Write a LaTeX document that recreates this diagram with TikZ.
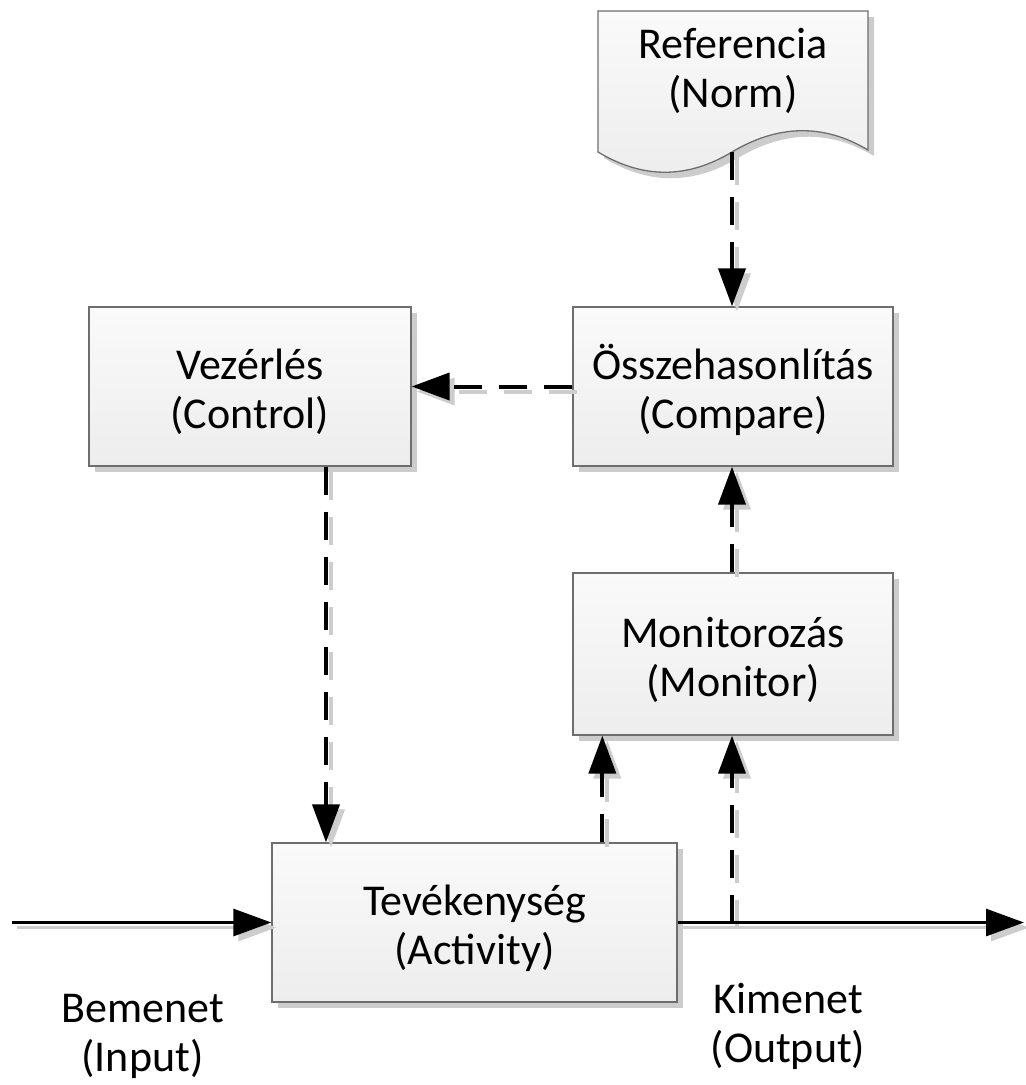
\documentclass[tikz,border=0pt]{standalone}
\usepackage{fontspec}
\setmainfont{Carlito}
\usetikzlibrary{arrows.meta,shadows,calc}
\definecolor{boxborder}{HTML}{6E6E6E}
\definecolor{boxtop}{HTML}{FAFAFA}
\definecolor{boxbot}{HTML}{EDEDED}
\definecolor{shadowgray}{HTML}{CCCCCC}
\definecolor{lineshadow}{HTML}{CDCDCD}
\newcommand{\twoline}[2]{\vtop{\baselineskip=49pt\lineskiplimit=-100pt\halign{\hfil##\hfil\cr #1\cr #2\cr}}}
\begin{document}
\begin{tikzpicture}[x=1pt,y=-1pt,
  txt/.style={inner sep=0pt, font=\fontsize{44}{49}\selectfont},
  box/.style={txt, draw=boxborder, line width=1.3pt, top color=boxtop, bottom color=boxbot,
    text height=30pt, text depth=44pt,
    drop shadow={shadow xshift=6pt, shadow yshift=-6pt, fill=shadowgray, opacity=1}},
  docshape/.style={draw=boxborder, line width=1.3pt, top color=boxtop, bottom color=boxbot,
    preaction={fill=shadowgray, draw=none, transform canvas={shift={(6pt,-6pt)}}}},
  tip/.style={-{Triangle[length=38pt,width=27pt]}},
  dashconn/.style={line width=4pt, dash pattern=on 28pt off 17pt, tip,
    preaction={draw=lineshadow, line width=4pt, dash pattern=on 28pt off 17pt, tip,
      transform canvas={shift={(5pt,-5pt)}}}},
  solidconn/.style={line width=3pt, tip,
    preaction={draw=lineshadow, line width=3pt, tip, transform canvas={shift={(5pt,-5pt)}}}}
]
\useasboundingbox (0,0) rectangle (1026,1085);

% document shape (Referencia)
\draw[docshape] (598,11) -- (868,11) -- (868,150)
  .. controls (823,123) and (777,125) .. (732,152)
  .. controls (687,179) and (643,179) .. (598,152) -- cycle;
\node[txt, anchor=base] (ref) at (733,58) {\twoline{Referencia}{(Norm)}};
\coordinate (refbot) at (732,152);

% boxes
\node[box, minimum width=320pt, minimum height=159pt] (cmp) at (733,386.5) {\twoline{Összehasonlítás}{(Compare)}};
\node[box, minimum width=322pt, minimum height=159pt] (ctl) at (250,386.5) {\twoline{Vezérlés}{(Control)}};
\node[box, minimum width=320pt, minimum height=162pt] (mon) at (733,654) {\twoline{Monitorozás}{(Monitor)}};
\node[box, minimum width=405pt, minimum height=159pt] (act) at (474.5,922.5) {\twoline{Tevékenység}{(Activity)}};

% free ends
\coordinate (in) at (12,922.5);
\coordinate (out) at (1024,922.5);
\coordinate (junc) at (732,922.5);

% labels
\node[txt, anchor=base] (inlbl) at (142.5,1022) {\twoline{Bemenet}{(Input)}};
\node[txt, anchor=base] (outlbl) at (788,1013) {\twoline{Kimenet}{(Output)}};

% connectors
\draw[dashconn] (refbot) -- (refbot |- cmp.north);
\draw[dashconn] (cmp.west) -- (ctl.east);
\draw[dashconn] ([xshift=76pt]ctl.south) -- ([xshift=76pt]ctl.south |- act.north);
\draw[dashconn] (mon.north -| refbot) -- (cmp.south -| refbot);
\draw[dashconn] ([xshift=30pt]mon.south west |- act.north) -- ([xshift=30pt]mon.south west);
\draw[dashconn] (junc) -- (junc |- mon.south);
\draw[solidconn] (in) -- (act.west);
\draw[solidconn] (act.east) -- (out);
\end{tikzpicture}
\end{document}
